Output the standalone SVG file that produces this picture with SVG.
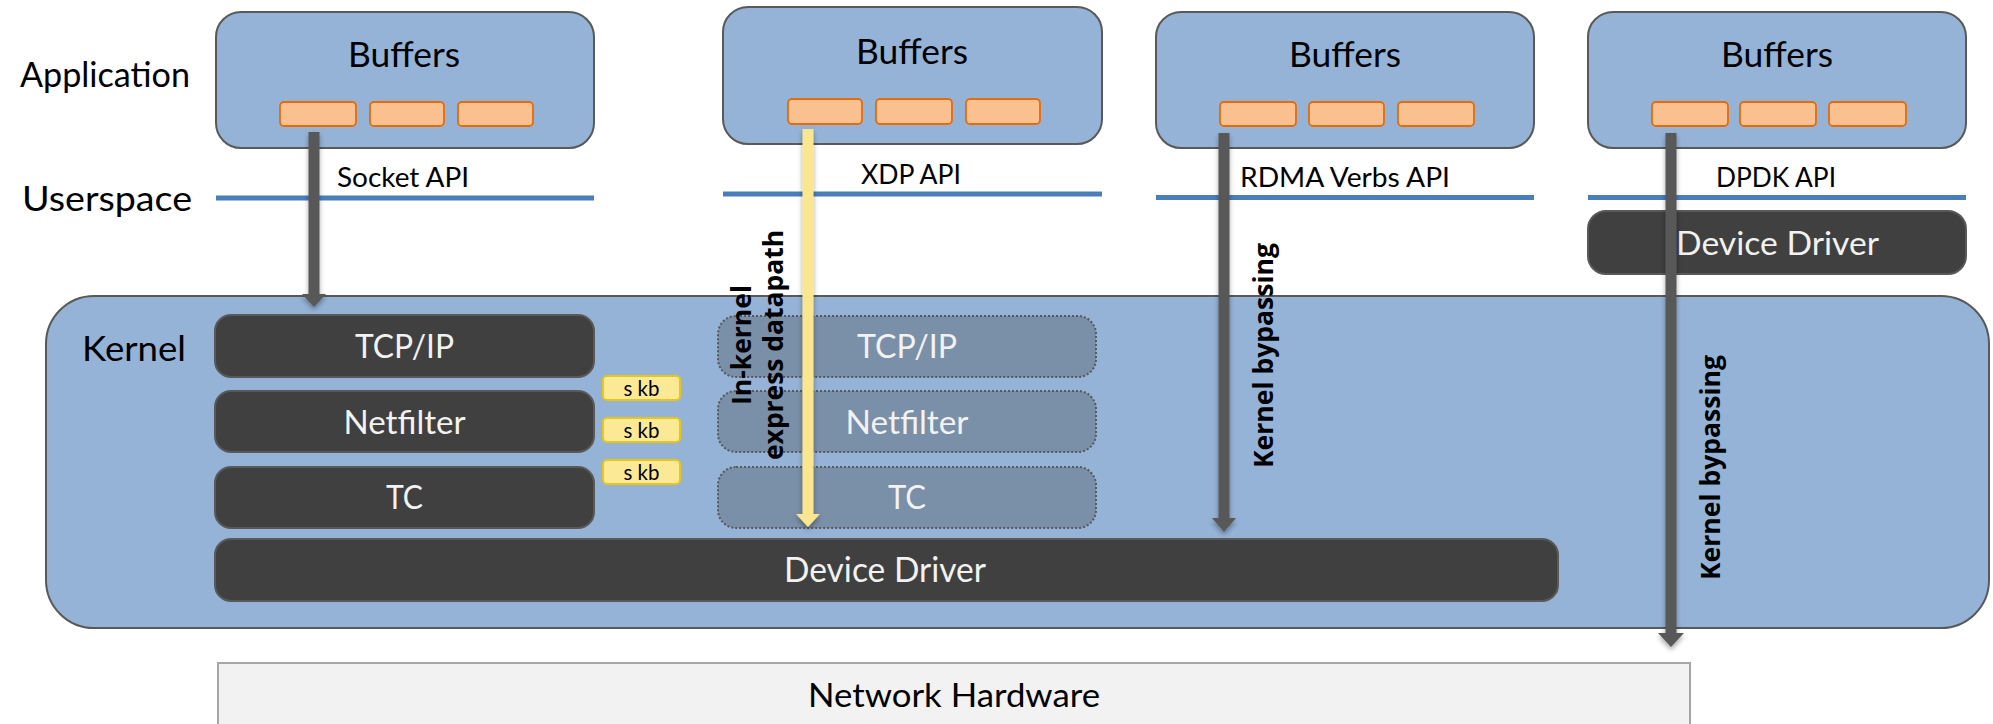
<svg xmlns="http://www.w3.org/2000/svg" width="1993" height="724" viewBox="0 0 1993 724">
  <defs>
    <filter id="shadow" x="-50%" y="-10%" width="200%" height="120%">
      <feDropShadow dx="0" dy="3" stdDeviation="2.5" flood-color="#000" flood-opacity="0.35"/>
    </filter>
    <style>
      .lbl { font-family: Lato, "Liberation Sans", sans-serif; fill: #000; }
      .wlbl { font-family: Lato, "Liberation Sans", sans-serif; fill: #f2f2f2; }
      .rot { font-family: "Open Sans", "Liberation Sans", sans-serif; font-weight: bold; fill: #000; font-size: 26px; }
      .app { fill: #95b3d7; stroke: #595959; stroke-width: 2; }
      .buf { fill: #fac090; stroke: #e46c0a; stroke-width: 1.8; }
      .api { stroke: #4a7ebb; stroke-width: 5; }
      .dark { fill: #404040; stroke: #595959; stroke-width: 2; }
      .ghost { fill: #7a8fa8; stroke: #595959; stroke-width: 2; stroke-dasharray: 2 2; }
      .skb { fill: #fbe995; stroke: #e6c619; stroke-width: 2; }
      .garrow { fill: #595959; }
      .yarrow { fill: #f9e68e; }
    </style>
  </defs>

  <rect width="1993" height="724" fill="#ffffff"/>

  <!-- layer names -->
  <text class="lbl" x="20" y="87" font-size="34" textLength="170" lengthAdjust="spacingAndGlyphs">Application</text>
  <text class="lbl" x="22" y="211" font-size="34" textLength="170" lengthAdjust="spacingAndGlyphs">Userspace</text>

  <!-- kernel -->
  <g id="kernel">
    <rect x="46" y="296" width="1943" height="332" rx="48" ry="48" fill="#95b3d7" stroke="#595959" stroke-width="2"/>
    <text class="lbl" x="82" y="361" font-size="34" textLength="104" lengthAdjust="spacingAndGlyphs">Kernel</text>
  </g>

  <!-- socket stack -->
  <g id="socket-app">
    <rect class="app" x="216" y="12" width="378" height="136" rx="25"/>
    <text class="lbl" x="404" y="67" font-size="35" text-anchor="middle" textLength="112" lengthAdjust="spacingAndGlyphs">Buffers</text>
    <rect class="buf" x="280" y="102" width="76" height="24" rx="4"/>
    <rect class="buf" x="370" y="102" width="74" height="24" rx="4"/>
    <rect class="buf" x="458" y="102" width="75" height="24" rx="4"/>
    <line class="api" x1="216" y1="198" x2="594" y2="198"/>
    <text class="lbl" x="337" y="187" font-size="26" textLength="132" lengthAdjust="spacingAndGlyphs">Socket API</text>
  </g>
  <g id="tcpip">
    <rect class="dark" x="215" y="315" width="379" height="62" rx="16"/>
    <text class="wlbl" x="404.5" y="358" font-size="33" text-anchor="middle" textLength="99" lengthAdjust="spacingAndGlyphs">TCP/IP</text>
  </g>
  <g id="netfilter">
    <rect class="dark" x="215" y="391" width="379" height="61" rx="16"/>
    <text class="wlbl" x="404.5" y="434" font-size="33" text-anchor="middle" textLength="122" lengthAdjust="spacingAndGlyphs">Netfilter</text>
  </g>
  <g id="tc">
    <rect class="dark" x="215" y="467" width="379" height="61" rx="16"/>
    <text class="wlbl" x="404.5" y="509" font-size="33" text-anchor="middle" textLength="37" lengthAdjust="spacingAndGlyphs">TC</text>
  </g>
  <g id="skb">
    <rect class="skb" x="603" y="376" width="77" height="24" rx="4"/>
    <text class="lbl" x="641.5" y="396" font-size="21" text-anchor="middle" textLength="36" lengthAdjust="spacingAndGlyphs">s kb</text>
    <rect class="skb" x="603" y="418" width="77" height="24" rx="4"/>
    <text class="lbl" x="641.5" y="438" font-size="21" text-anchor="middle" textLength="36" lengthAdjust="spacingAndGlyphs">s kb</text>
    <rect class="skb" x="603" y="460" width="77" height="24" rx="4"/>
    <text class="lbl" x="641.5" y="480" font-size="21" text-anchor="middle" textLength="36" lengthAdjust="spacingAndGlyphs">s kb</text>
  </g>

  <!-- XDP stack -->
  <g id="xdp-app">
    <rect class="app" x="723" y="7" width="379" height="137" rx="25"/>
    <text class="lbl" x="912" y="64" font-size="35" text-anchor="middle" textLength="112" lengthAdjust="spacingAndGlyphs">Buffers</text>
    <rect class="buf" x="788" y="99" width="74" height="25" rx="4"/>
    <rect class="buf" x="876" y="99" width="76" height="25" rx="4"/>
    <rect class="buf" x="966" y="99" width="74" height="25" rx="4"/>
    <line class="api" x1="723" y1="194" x2="1102" y2="194"/>
    <text class="lbl" x="861" y="184" font-size="26" textLength="100" lengthAdjust="spacingAndGlyphs">XDP API</text>
  </g>
  <g id="xdp-tcpip">
    <rect class="ghost" x="718" y="316" width="378" height="61" rx="18"/>
    <text class="wlbl" x="907" y="358" font-size="33" text-anchor="middle" textLength="100" lengthAdjust="spacingAndGlyphs">TCP/IP</text>
  </g>
  <g id="xdp-netfilter">
    <rect class="ghost" x="718" y="391" width="378" height="61" rx="18"/>
    <text class="wlbl" x="907" y="434" font-size="33" text-anchor="middle" textLength="123" lengthAdjust="spacingAndGlyphs">Netfilter</text>
  </g>
  <g id="xdp-tc">
    <rect class="ghost" x="718" y="467" width="378" height="61" rx="18"/>
    <text class="wlbl" x="907" y="509" font-size="33" text-anchor="middle" textLength="38" lengthAdjust="spacingAndGlyphs">TC</text>
  </g>

  <!-- RDMA stack -->
  <g id="rdma-app">
    <rect class="app" x="1156" y="12" width="378" height="136" rx="25"/>
    <text class="lbl" x="1345" y="67" font-size="35" text-anchor="middle" textLength="112" lengthAdjust="spacingAndGlyphs">Buffers</text>
    <rect class="buf" x="1220" y="102" width="76" height="24" rx="4"/>
    <rect class="buf" x="1309" y="102" width="75" height="24" rx="4"/>
    <rect class="buf" x="1398" y="102" width="76" height="24" rx="4"/>
    <line class="api" x1="1156" y1="197.5" x2="1534" y2="197.5"/>
    <text class="lbl" x="1240" y="187" font-size="26" textLength="210" lengthAdjust="spacingAndGlyphs">RDMA Verbs API</text>
  </g>

  <!-- DPDK stack -->
  <g id="dpdk-app">
    <rect class="app" x="1588" y="12" width="378" height="136" rx="25"/>
    <text class="lbl" x="1777" y="67" font-size="35" text-anchor="middle" textLength="112" lengthAdjust="spacingAndGlyphs">Buffers</text>
    <rect class="buf" x="1652" y="102" width="76" height="24" rx="4"/>
    <rect class="buf" x="1740" y="102" width="76" height="24" rx="4"/>
    <rect class="buf" x="1829" y="102" width="77" height="24" rx="4"/>
    <line class="api" x1="1588" y1="197.5" x2="1966" y2="197.5"/>
    <text class="lbl" x="1716" y="187" font-size="26" textLength="120" lengthAdjust="spacingAndGlyphs">DPDK API</text>
  </g>
  <g id="dpdk-driver">
    <rect class="dark" x="1588" y="211" width="378" height="63" rx="18"/>
    <text class="wlbl" x="1777.5" y="255" font-size="33" text-anchor="middle" textLength="203" lengthAdjust="spacingAndGlyphs">Device Driver</text>
  </g>

  <!-- shared driver and hardware -->
  <g id="device-driver">
    <rect class="dark" x="215" y="539" width="1343" height="62" rx="16"/>
    <text class="wlbl" x="885" y="582" font-size="34" text-anchor="middle" textLength="202" lengthAdjust="spacingAndGlyphs">Device Driver</text>
  </g>
  <g id="network-hardware">
    <rect x="218" y="663" width="1472" height="80" fill="#f2f2f2" stroke="#a6a6a6" stroke-width="2"/>
    <text class="lbl" x="954" y="707" font-size="33" text-anchor="middle" textLength="292" lengthAdjust="spacingAndGlyphs">Network Hardware</text>
  </g>

  <!-- data paths -->
  <g id="connectors">
    <g class="garrow" filter="url(#shadow)">
      <rect x="308.5" y="132" width="11" height="164"/>
      <polygon points="302,294 326,294 314,307"/>
    </g>
    <g class="yarrow" filter="url(#shadow)">
      <rect x="802.5" y="129" width="11" height="387"/>
      <polygon points="796,514 820,514 808,527"/>
    </g>
    <g class="garrow" filter="url(#shadow)">
      <rect x="1218.5" y="133" width="11" height="386"/>
      <polygon points="1212,518 1236,518 1224,532"/>
    </g>
    <g class="garrow" filter="url(#shadow)">
      <rect x="1665.5" y="133" width="11" height="502"/>
      <polygon points="1658,633 1684,633 1671,647"/>
    </g>
  </g>

  <!-- path captions -->
  <g id="path-labels">
    <text class="rot" transform="translate(751 405) rotate(-90)" textLength="120" lengthAdjust="spacingAndGlyphs">In-kernel</text>
    <text class="rot" transform="translate(783 460) rotate(-90)" textLength="230" lengthAdjust="spacingAndGlyphs">express datapath</text>
    <text class="rot" transform="translate(1273 468) rotate(-90)" textLength="225" lengthAdjust="spacingAndGlyphs">Kernel bypassing</text>
    <text class="rot" transform="translate(1720 580) rotate(-90)" textLength="225" lengthAdjust="spacingAndGlyphs">Kernel bypassing</text>
  </g>
</svg>
